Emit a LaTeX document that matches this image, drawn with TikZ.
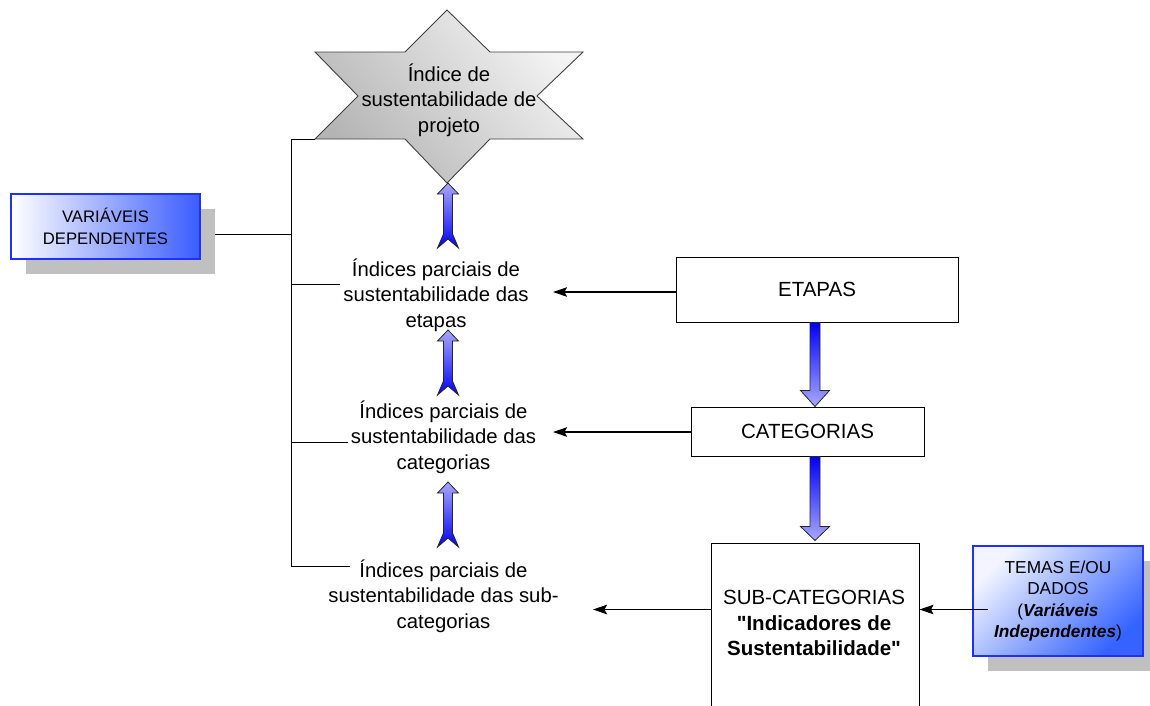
\documentclass[tikz,border=0pt]{standalone}
\usepackage{fontspec}
\setmainfont{Liberation Sans}[Ligatures=TeXOff]
\usetikzlibrary{arrows.meta,shadows}
\definecolor{shadowgray}{HTML}{C0C0C0}
\definecolor{vdblue}{HTML}{3A5CFF}
\definecolor{vdborder}{HTML}{1F2FFF}
\definecolor{tblue}{HTML}{3563FF}
\definecolor{tlight}{HTML}{F2F5FF}
\definecolor{starlight}{HTML}{F4F4F4}
\definecolor{stardark}{HTML}{B4B4B4}
\definecolor{arrlight}{HTML}{A8A8FF}
\definecolor{arrdeep}{HTML}{0000F5}
\newcommand\blockup[2]{%
  \draw[uparr] (#1,#2) -- ++(10.5,11) -- ++(-6,0) -- ++(0,40) -- ++(6,14)
    -- ++(-10.5,-9) -- ++(-10.5,9) -- ++(6,-14) -- ++(0,-40) -- ++(-6,0) -- cycle;}
\newcommand\blockdown[4]{%
  \draw[dnarr] ({#1-5},{#2}) -- ({#1+5},{#2}) -- ({#1+5},{#2+#3-#4})
    -- ({#1+14.5},{#2+#3-#4}) -- ({#1},{#2+#3}) -- ({#1-14.5},{#2+#3-#4})
    -- ({#1-5},{#2+#3-#4}) -- cycle;}
\begin{document}
\begin{tikzpicture}[x=1pt,y=-1pt,
  txt/.style={align=center,inner sep=0pt,font=\fontsize{20.3}{25.3}\selectfont},
  box/.style={draw=black,line width=1pt,fill=white,align=center,inner sep=0pt,
    font=\fontsize{20.5}{25.5}\selectfont,
    drop shadow={shadow xshift=1.3pt,shadow yshift=-1.3pt,fill=gray!70,opacity=1}},
  bigshadow/.style={drop shadow={shadow xshift=15pt,shadow yshift=-15pt,fill=shadowgray,opacity=1}},
  conn/.style={line width=1.1pt,-{Stealth[length=14pt,width=9.5pt,inset=2.5pt]}},
  plainline/.style={line width=0.95pt},
  uparr/.style={draw=black!85,line width=0.8pt,top color=arrlight,bottom color=arrdeep},
  dnarr/.style={draw=black!85,line width=0.8pt,top color=arrdeep,bottom color=arrlight}]
\useasboundingbox (0,0) rectangle (1150,705);
\fill[white] (0,0) rectangle (1150,705);

% star
\shade[draw=black!75,line width=0.9pt,top color=starlight,bottom color=stardark,shading angle=-50]
  (447,10) -- (490,52) -- (583,52) -- (537,96) -- (583,139) -- (490,139) -- (447,183)
  -- (405,139) -- (315,139) -- (358,96) -- (315,52) -- (405,52) -- cycle;
\coordinate (starBL) at (315,139.5);
\node[txt] (star) at (449,100) {Índice de\\sustentabilidade de\\projeto};

% variaveis dependentes
\coordinate (vdline) at (215,234);
\coordinate (bt) at (291,139.5);
\coordinate (bb) at (291,566);
\draw[plainline] (vdline) -- (vdline -| bt);
\node[bigshadow,draw=vdborder,line width=1.1pt,left color=white,right color=vdblue,
  minimum width=189pt,minimum height=65pt,align=center,inner sep=0pt,
  font=\fontsize{16.7}{21.5}\selectfont] (vd) at (105.5,226.5) {VARIÁVEIS\\DEPENDENTES};

% bracket
\draw[plainline] (starBL) -- (bt) -- (bb) -- ++(59,0);
\draw[plainline] (291,284) -- (340,284);
\draw[plainline] (291,442) -- (348,442);

% partial indices
\node[txt] (pe) at (436,295) {Índices parciais de\\sustentabilidade das\\etapas};
\node[txt] (pc) at (443.5,437) {Índices parciais de\\sustentabilidade das\\categorias};
\node[txt] (ps) at (443.5,596) {Índices parciais de\\sustentabilidade das sub-\\categorias};

% up block arrows
\blockup{448}{183}
\blockup{448}{330}
\blockup{448}{482}

% right column
\node[box,minimum width=282pt,minimum height=65pt] (etapas) at (817,289.5) {ETAPAS};
\node[box,minimum width=233pt,minimum height=49pt] (cat) at (807.5,431.5) {CATEGORIAS};
\node[box,minimum width=208pt,minimum height=180pt] (subbox) at (815,633) {};
\node[txt,font=\fontsize{20.5}{25.5}\selectfont] (subtxt) at (814,623)
  {SUB-CATEGORIAS\\\textbf{"Indicadores de}\\\textbf{Sustentabilidade"}};

\blockdown{815}{322.5}{84}{16}
\blockdown{815}{456.5}{84}{14}

\coordinate (tipA) at (553,292);
\coordinate (tipB) at (553,432);
\coordinate (tipC) at (593,609.5);
\draw[conn] (etapas.west |- tipA) -- (tipA);
\draw[conn] (cat.west |- tipB) -- (tipB);
\draw[conn] (subbox.west |- tipC) -- (tipC);

% temas
\node[bigshadow,draw=vdborder,line width=1.1pt,top color=tlight,middle color=tblue,
  bottom color=tblue,shading angle=45,
  minimum width=170pt,minimum height=110pt,align=center,inner sep=0pt,
  font=\fontsize{17.3}{21.4}\selectfont] (temas) at (1058,601)
  {TEMAS E/OU\\DADOS\\(\textbf{\textit{Variáveis}}\\\textbf{\textit{Independentes}})};
\coordinate (temasline) at (988,609.5);
\draw[conn] (temasline) -- (subbox.east |- temasline);
\end{tikzpicture}
\end{document}
